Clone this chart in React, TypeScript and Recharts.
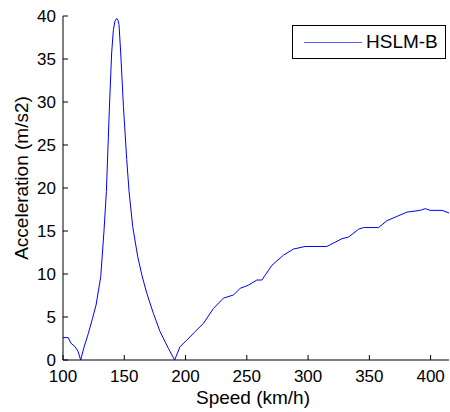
import React from 'react';
import { LineChart, Line, XAxis, YAxis, Legend } from 'recharts';

const speed = [100, 104.3, 106.5, 109.8, 112.3, 114.4, 117, 120.7, 124, 127, 130.8, 133.5, 135.4, 137.8, 139.7, 141.1, 142.4, 143.8, 144.9, 145.7, 147.1, 149.3, 152, 153.9, 156.9, 161, 164.5, 168.4, 173.8, 179.2, 186, 191.1, 195.5, 201, 207.8, 214.6, 222.8, 231, 239.1, 244.6, 251.3, 258.2, 262.3, 270.4, 280, 288.1, 297.6, 315.3, 318, 327.6, 333, 341.2, 345.3, 357.5, 364.4, 372.5, 380.7, 391.6, 395.6, 399.7, 409.3, 415];
const accel = [2.6, 2.6, 1.95, 1.55, 1.0, 0, 1.4, 3.1, 4.8, 6.4, 9.7, 15.1, 19.6, 29.1, 35.7, 38.4, 39.4, 39.7, 39.5, 39.0, 35.7, 29.5, 23.3, 19.6, 15.5, 12.0, 9.8, 7.75, 5.4, 3.3, 1.35, 0, 1.55, 2.3, 3.3, 4.26, 6.0, 7.2, 7.56, 8.33, 8.7, 9.3, 9.3, 11.0, 12.2, 12.9, 13.2, 13.2, 13.4, 14.1, 14.3, 15.2, 15.4, 15.4, 16.2, 16.7, 17.2, 17.4, 17.6, 17.4, 17.4, 17.1];
const xTicks = [100, 150, 200, 250, 300, 350, 400];
const yTicks = [0, 5, 10, 15, 20, 25, 30, 35, 40];
const seriesName = 'HSLM-B';
const xLabel = 'Speed (km/h)';
const yLabel = 'Acceleration (m/s2)';

const data = speed.map((v, i) => ({ v, a: accel[i] }));

const FONT = '"Liberation Sans", Arial, Helvetica, sans-serif';
const TL = 5;

const BottomTick = (p: any) => (
  <g>
    <line x1={p.x} x2={p.x} y1={p.y} y2={p.y - TL} stroke="#000" />
    <text x={p.x} y={p.y + 22} textAnchor="middle" fontSize={17} fontFamily={FONT} fill="#000">
      {p.payload.value}
    </text>
  </g>
);
const TopTick = (p: any) => (
  <line x1={p.x} x2={p.x} y1={p.y} y2={p.y + TL} stroke="#000" />
);
const LeftTick = (p: any) => (
  <g>
    <line x1={p.x} x2={p.x + TL} y1={p.y} y2={p.y} stroke="#000" />
    <text x={p.x - 7} y={p.y} dy="0.33em" textAnchor="end" fontSize={17} fontFamily={FONT} fill="#000">
      {p.payload.value}
    </text>
  </g>
);
const RightTick = (p: any) => (
  <line x1={p.x} x2={p.x - TL} y1={p.y} y2={p.y} stroke="#000" />
);

const XLabel = (p: any) => {
  const vb = p.viewBox;
  return (
    <text x={vb.x + vb.width / 2 - 3} y={404} textAnchor="middle" fontSize={19} fontFamily={FONT} fill="#000">
      {xLabel}
    </text>
  );
};
const YLabel = (p: any) => {
  const vb = p.viewBox;
  const cy = vb.y + vb.height / 2 - 10;
  const cx = 21;
  return (
    <text x={cx} y={cy} dy="0.35em" textAnchor="middle" fontSize={19} fontFamily={FONT} fill="#000" transform={`rotate(-90, ${cx}, ${cy})`}>
      {yLabel}
    </text>
  );
};

const LegendBox = (props: any) => {
  const entry = (props.payload && props.payload[0]) || { value: seriesName, color: '#0000ff' };
  return (
    <div style={{ width: 152, height: 32, border: '1px solid #000', background: '#fff', position: 'relative', boxSizing: 'content-box' }}>
      <svg width={60} height={32} style={{ position: 'absolute', left: 10, top: 0 }}>
        <line x1={1} x2={59} y1={16.5} y2={16.5} stroke="#5a5aff" strokeWidth={1.2} />
      </svg>
      <span style={{ position: 'absolute', left: 73, top: 5, fontSize: 19, lineHeight: '22px', fontFamily: FONT, color: '#000' }}>
        {entry.value}
      </span>
    </div>
  );
};

export default function App() {
  return (
    <div style={{ position: 'absolute', left: 0, top: 0, width: 450, height: 412, background: '#fff' }}>
      <LineChart width={450} height={412} data={data} margin={{ top: 16, right: 1, left: 0, bottom: 0 }}>
        <XAxis xAxisId="b" dataKey="v" type="number" domain={[100, 415]} ticks={xTicks} allowDataOverflow
          height={52} tickSize={0} tickMargin={0} tick={<BottomTick />} axisLine={{ stroke: '#000' }} interval={0}
          label={<XLabel />} />
        <XAxis xAxisId="t" orientation="top" dataKey="v" type="number" domain={[100, 415]} ticks={xTicks} allowDataOverflow
          height={0} tickSize={0} tickMargin={0} tick={<TopTick />} axisLine={{ stroke: '#000' }} interval={0} />
        <YAxis yAxisId="l" type="number" domain={[0, 40]} ticks={yTicks} width={63} tickSize={0} tickMargin={0}
          tick={<LeftTick />} axisLine={{ stroke: '#000' }} interval={0} label={<YLabel />} />
        <YAxis yAxisId="r" orientation="right" type="number" domain={[0, 40]} ticks={yTicks} width={0} tickSize={0}
          tickMargin={0} tick={<RightTick />} axisLine={{ stroke: '#000' }} interval={0} />
        <Legend layout="vertical" align="center" verticalAlign="middle" content={<LegendBox />}
          wrapperStyle={{ position: 'absolute', left: 292, top: 25, width: 154, height: 34 }} />
        <Line xAxisId="b" yAxisId="l" dataKey="a" name={seriesName} type="linear" stroke="#0000ff" strokeWidth={1}
          dot={false} activeDot={false} isAnimationActive={false} />
      </LineChart>
    </div>
  );
}
